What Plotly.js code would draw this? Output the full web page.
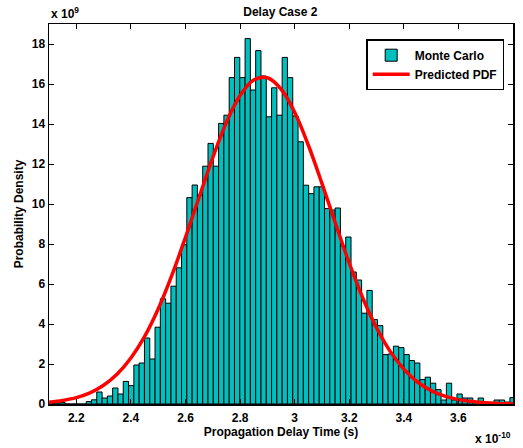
<!DOCTYPE html>
<html>
<head>
<meta charset="utf-8">
<script src="https://cdn.plot.ly/plotly-3.0.1.min.js"></script>
<style>
  html, body { margin: 0; padding: 0; background: #fff; }
  #chart { width: 523px; height: 448px; }
</style>
</head>
<body>
<div id="chart"></div>
<script>
// Histogram of Monte Carlo propagation delays (x in units of 1e-10 s,
// density in units of 1e9), bins of equal width starting at binStart.
const binStart = 2.1101;
const binWidth = 0.019406;
const mcDensity = [
  0.03, 0.05, 0.08, 0, 0, 0, 0, 0.12, 0.21, 0.6,
  0.3, 0.4, 0.8, 0.5, 1.13, 0.92, 1.95, 2.05, 3.3, 2.25,
  3.84, 5.26, 5.04, 5.89, 6.81, 7.96, 10.32, 10.95, 10.44, 11.89,
  13.03, 11.89, 14.03, 14.44, 16.32, 17.33, 16.32, 18.27, 15.7, 17.67,
  16.4, 14.36, 15.81, 14.44, 17.33, 16.32, 14.4, 13.11, 10.94, 10.52,
  10.86, 10.86, 9.77, 9.7, 9.8, 7.9, 8.35, 6.6, 6.2, 4.54,
  5.68, 4.22, 3.92, 2.47, 2.5, 2.89, 2.82, 2.47, 2.17, 2.05,
  1.22, 1.34, 1.04, 0.72, 0.2, 1.04, 0.2, 0.5, 0.3, 0.3,
  0.13, 0.3, 0.05, 0.05, 0.2, 0.2, 0.1, 0.32
];

// Predicted PDF sampled along the delay axis
const pdfDelay = [
  2.10, 2.15, 2.20, 2.25, 2.30, 2.35, 2.40, 2.45, 2.50, 2.55,
  2.60, 2.65, 2.70, 2.75, 2.80, 2.85, 2.90, 2.95, 3.00, 3.05,
  3.10, 3.15, 3.20, 3.25, 3.30, 3.35, 3.40, 3.45, 3.50, 3.55,
  3.60, 3.65, 3.70, 3.75, 3.80
];
const pdfDensity = [
  0.09, 0.18, 0.32, 0.56, 0.94, 1.50, 2.30, 3.37, 4.75, 6.43,
  8.33, 10.34, 12.32, 14.08, 15.42, 16.20, 16.31, 15.75, 14.59, 12.95,
  11.03, 9.01, 7.05, 5.29, 3.81, 2.63, 1.74, 1.10, 0.67, 0.39,
  0.22, 0.12, 0.06, 0.03, 0.01
];

const xTicks = [2.2, 2.4, 2.6, 2.8, 3.0, 3.2, 3.4, 3.6];
const xTickText = ['2.2', '2.4', '2.6', '2.8', '3', '3.2', '3.4', '3.6'];
const yTicks = [0, 2, 4, 6, 8, 10, 12, 14, 16, 18];

const boldFont = { family: 'Liberation Sans, Arial, sans-serif', size: 12, color: '#000', weight: 'bold' };

const traces = [
  {
    type: 'bar',
    name: 'Monte Carlo',
    x0: binStart,
    dx: binWidth,
    y: mcDensity,
    width: binWidth,
    marker: { color: '#00BFBF', line: { color: '#000', width: 1 } },
    hoverinfo: 'x+y'
  },
  {
    type: 'scatter',
    mode: 'lines',
    name: 'Predicted PDF',
    x: pdfDelay,
    y: pdfDensity,
    line: { color: '#FF0000', width: 3.5, shape: 'spline' }
  }
];

const axisCommon = {
  showgrid: false,
  zeroline: false,
  showline: true,
  linecolor: '#000',
  linewidth: 1.5,
  mirror: 'ticks',
  ticks: 'inside',
  ticklen: 5,
  tickwidth: 1,
  tickcolor: '#000',
  tickfont: boldFont
};

const layout = {
  width: 523,
  height: 448,
  margin: { l: 49, r: 10, t: 24, b: 44 },
  paper_bgcolor: '#fff',
  plot_bgcolor: '#fff',
  bargap: 0,
  showlegend: true,
  title: {
    text: 'Delay Case 2',
    font: boldFont,
    x: 0.536, xanchor: 'center',
    y: 0.973, yanchor: 'middle'
  },
  xaxis: Object.assign({}, axisCommon, {
    range: [2.1, 3.8],
    tickvals: xTicks,
    ticktext: xTickText,
    ticklabelstandoff: 2,
    title: { text: 'Propagation Delay Time (s)', font: boldFont, standoff: 3 }
  }),
  yaxis: Object.assign({}, axisCommon, {
    range: [0, 19],
    tickvals: yTicks,
    title: { text: 'Probability Density', font: boldFont, standoff: 5 }
  }),
  legend: {
    x: 0.981, xanchor: 'right',
    y: 0.96, yanchor: 'top',
    bgcolor: '#fff',
    bordercolor: '#000',
    borderwidth: 1.5,
    font: boldFont,
    itemwidth: 37,
    tracegroupgap: 0
  },
  annotations: [
    {
      xref: 'paper', yref: 'paper', x: 0, y: 1,
      xanchor: 'left', yanchor: 'bottom', yshift: 1,
      text: 'x 10<sup>9</sup>', showarrow: false, font: boldFont
    },
    {
      xref: 'paper', yref: 'paper', x: 1, y: 0,
      xanchor: 'right', yanchor: 'top', yshift: -24,
      text: 'x 10<sup>-10</sup>', showarrow: false, font: boldFont
    }
  ]
};

Plotly.newPlot('chart', traces, layout, { displayModeBar: false, staticPlot: true });
</script>
</body>
</html>
